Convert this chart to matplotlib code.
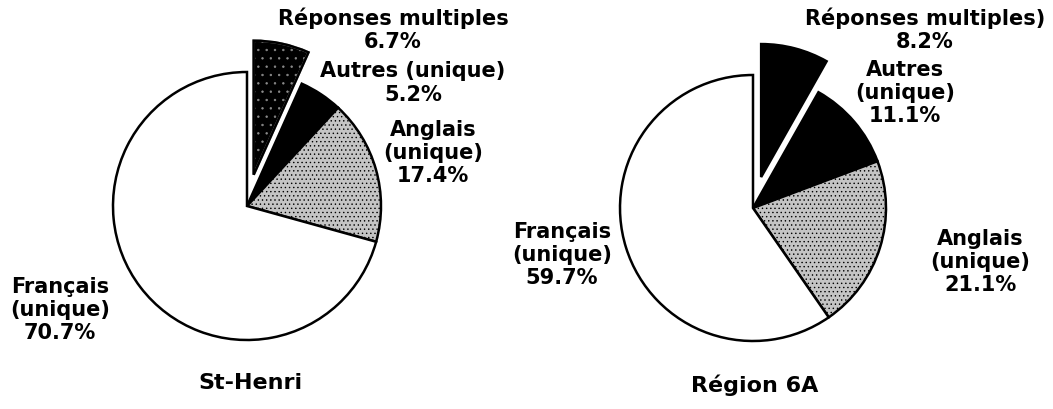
import matplotlib
matplotlib.use('Agg')
import matplotlib.pyplot as plt
from matplotlib.patches import Wedge

# data for the two pies (clockwise from 12 o'clock)
categories = ['Réponses multiples', 'Autres (unique)', 'Anglais (unique)', 'Français (unique)']
sthenri_values = [6.7, 5.2, 17.4, 70.7]
region_values = [8.2, 11.1, 21.1, 59.7]

sthenri_labels = ['Réponses multiples\n6.7%', 'Autres (unique)\n5.2%',
                  'Anglais\n(unique)\n17.4%', 'Français\n(unique)\n70.7%']
region_labels = ['Réponses multiples)\n8.2%', 'Autres\n(unique)\n11.1%',
                 'Anglais\n(unique)\n21.1%', 'Français\n(unique)\n59.7%']
titles = ['St-Henri', 'Région 6A']

plt.rcParams['hatch.linewidth'] = 0.5

fig = plt.figure(figsize=(10.53, 4.10), dpi=100)
ax = fig.add_axes([0, 0, 1, 1])

font = dict(family='DejaVu Sans', fontweight='bold', fontsize=15,
            ha='center', va='center', linespacing=1.2)

# pie 1 - St-Henri
wedges1, _ = ax.pie(sthenri_values, center=(247, 203), radius=134, startangle=90,
                    counterclock=False, explode=[32, 0, 0, 0], frame=True,
                    wedgeprops=dict(linewidth=1.8, edgecolor='black'))
# pie 2 - Région 6A
wedges2, _ = ax.pie(region_values, center=(753, 201), radius=133, startangle=90,
                    counterclock=False, explode=[32, 0, 0, 0], frame=True,
                    wedgeprops=dict(linewidth=1.8, edgecolor='black'))
ax.set_xlim(0, 1053)
ax.set_ylim(0, 410)
ax.set_aspect('equal')
ax.axis('off')

# fill styles
# dark stipple on the first wedge: grey dots, then a black outline on top
w = wedges1[0]
w.set_facecolor('black')
w.set_edgecolor('#8c8c8c')
w.set_hatch('..')
ax.add_patch(Wedge(w.center, w.r, w.theta1, w.theta2, facecolor='none',
                   edgecolor='black', linewidth=1.8))
wedges2[0].set_facecolor('black')
for w in (wedges1[1], wedges2[1]):
    w.set_facecolor('black')
for w in (wedges1[2], wedges2[2]):
    w.set_facecolor('#c4c4c4')
    w.set_hatch('....')
for w in (wedges1[3], wedges2[3]):
    w.set_facecolor('white')

# labels
ax.text(393, 410 - 30, sthenri_labels[0], **font)
ax.text(413, 410 - 83, sthenri_labels[1], **font)
ax.text(433, 410 - 153, sthenri_labels[2], **font)
ax.text(60, 410 - 310, sthenri_labels[3], **font)
ax.text(250, 410 - 383, titles[0], **dict(font, fontsize=16))

ax.text(925, 410 - 30, region_labels[0], **font)
ax.text(905, 410 - 93, region_labels[1], **font)
ax.text(980, 410 - 262, region_labels[2], **font)
ax.text(562, 410 - 255, region_labels[3], **font)
ax.text(755, 410 - 385, titles[1], **dict(font, fontsize=16))

fig.savefig('out.png', dpi=100, facecolor='white')
